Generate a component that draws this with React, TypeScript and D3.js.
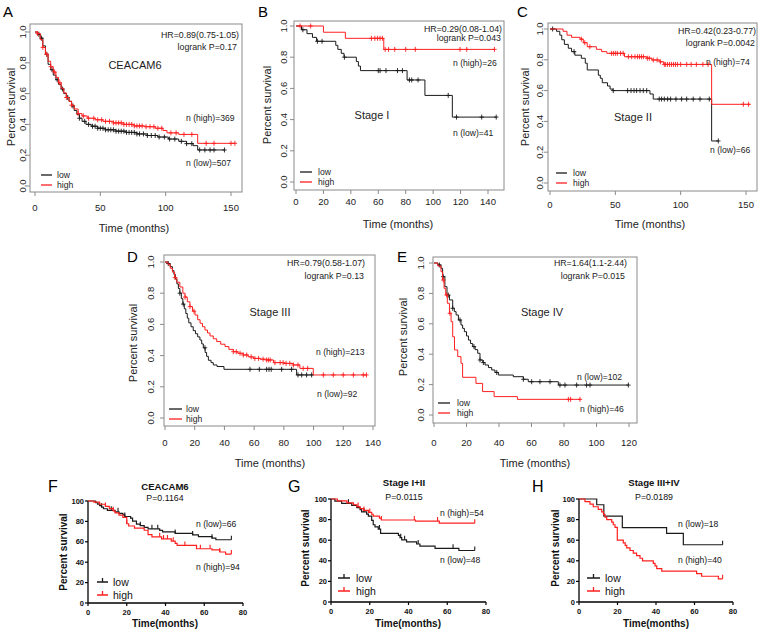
import * as d3 from "d3";

type Step = [number, number];

const FONT = "'Liberation Sans', Arial, Helvetica, sans-serif";
const BLACK = "#1a1a1a";
const RED = "#ff1f1f";
const GREY = "#8a8a8a";

// ---------- A: CEACAM6, all stages ----------
const A_LOW_STEPS: Step[] = [[0, 1], [2, 0.985], [4, 0.96], [6, 0.91], [8, 0.855], [10, 0.79], [12, 0.755], [14, 0.72], [16, 0.69], [18, 0.66], [20, 0.63], [22, 0.6], [24, 0.575], [26, 0.55], [28, 0.52], [30, 0.49], [32, 0.465], [34, 0.44], [36, 0.42], [39, 0.4], [43, 0.388], [48, 0.375], [54, 0.365], [62, 0.356], [70, 0.348], [78, 0.338], [86, 0.328], [94, 0.318], [102, 0.305], [110, 0.29], [116, 0.275], [121, 0.262], [124.5, 0.234]];
const A_LOW_END = 145;
const A_LOW_CENSOR = [3, 5, 9, 13, 17, 21, 25, 29, 34, 38, 41, 44, 46, 48, 50, 52, 54, 56, 58, 60, 62, 64, 66, 68, 70, 72, 74, 76, 78, 80, 83, 86, 89, 92, 95, 99, 103, 107, 112, 116, 120, 126, 130, 134, 137, 145];
const A_HIGH_STEPS: Step[] = [[0, 1], [2, 0.99], [4, 0.95], [6, 0.9], [8, 0.855], [10, 0.81], [12, 0.775], [14, 0.74], [16, 0.705], [18, 0.67], [20, 0.635], [22, 0.605], [24, 0.575], [26, 0.55], [28, 0.525], [30, 0.5], [33, 0.47], [36, 0.455], [40, 0.44], [46, 0.43], [52, 0.42], [60, 0.41], [68, 0.4], [76, 0.39], [84, 0.385], [92, 0.375], [98, 0.36], [101, 0.345], [110, 0.335], [124.5, 0.277]];
const A_HIGH_END = 153;
const A_HIGH_CENSOR = [2, 6, 9, 12, 15, 19, 24, 28, 33, 37, 41, 45, 48, 51, 54, 57, 60, 62, 64, 66, 68, 70, 72, 74, 76, 78, 80, 82, 85, 88, 91, 94, 97, 104, 108, 114, 120, 131, 137, 150, 153];

// ---------- B: Stage I ----------
const B_LOW_STEPS: Step[] = [[0, 1], [4, 0.976], [8, 0.951], [12, 0.927], [15, 0.902], [29, 0.876], [30.5, 0.85], [33, 0.825], [35, 0.8], [44, 0.772], [45.5, 0.743], [47, 0.714], [81, 0.654], [94, 0.555], [114, 0.416]];
const B_LOW_END = 146;
const B_LOW_CENSOR = [5, 15.6, 19, 35.3, 60, 61.3, 65.6, 74, 77.6, 82.7, 84.4, 89, 111, 117, 135.4, 146];
const B_HIGH_STEPS: Step[] = [[0, 1], [20, 0.96], [36, 0.921], [64, 0.85]];
const B_HIGH_END = 144.7;
const B_HIGH_CENSOR = [3, 10.7, 55, 57.5, 59.5, 61.3, 63, 65, 67.5, 72, 80, 87, 119.6, 124.5, 144.7];

// ---------- C: Stage II ----------
const C_LOW_STEPS: Step[] = [[0, 1], [5, 0.985], [7.5, 0.96], [9, 0.93], [11, 0.9], [14, 0.875], [16.5, 0.853], [19, 0.83], [24, 0.81], [27, 0.778], [28.5, 0.734], [37, 0.7], [38.5, 0.68], [40, 0.651], [44, 0.63], [46, 0.61], [48, 0.6], [76.5, 0.578], [79, 0.545], [123.7, 0.273]];
const C_LOW_END = 128.8;
const C_LOW_CENSOR = [2, 18.4, 48.4, 59.4, 62, 64.3, 66.3, 68.9, 71.4, 74, 83.6, 85.4, 87.5, 90, 92.3, 96.4, 100.7, 104.6, 109.6, 114.8, 121.9, 128.8];
const C_HIGH_STEPS: Step[] = [[0, 1], [10, 0.985], [13, 0.96], [16.5, 0.946], [23, 0.934], [25.5, 0.911], [28.5, 0.885], [35.5, 0.868], [39.5, 0.853], [43.5, 0.842], [57, 0.82], [74, 0.81], [78, 0.799], [84, 0.787], [87, 0.77], [123.7, 0.511]];
const C_HIGH_END = 153;
const C_HIGH_CENSOR = [24, 26.6, 30.5, 47, 48.5, 50, 51.5, 54, 56, 60, 62.5, 65, 67, 68.5, 70, 71.5, 74.5, 76, 79, 82, 84.5, 87.5, 88.5, 90, 91.5, 93, 94.5, 96, 97.5, 100, 104.6, 108, 112, 117, 121, 148, 152];

// ---------- D: Stage III ----------
const D_LOW_STEPS: Step[] = [[0, 1], [2, 0.99], [3.5, 0.97], [5, 0.945], [6, 0.92], [7, 0.89], [8, 0.86], [9, 0.83], [10, 0.8], [11, 0.765], [12, 0.73], [13, 0.7], [14, 0.67], [15, 0.64], [16, 0.61], [17.5, 0.585], [19, 0.56], [20.5, 0.54], [22, 0.52], [23.5, 0.5], [24.7, 0.475], [25.8, 0.45], [27, 0.42], [28, 0.395], [29.2, 0.37], [31, 0.355], [32.5, 0.34], [35, 0.33], [39.7, 0.312], [88.6, 0.276]];
const D_LOW_END = 99.8;
const D_LOW_CENSOR = [2.2, 10, 12.3, 26.9, 57.2, 63.5, 68.4, 70, 71.5, 78.5, 85.2, 89.5, 92, 95.3, 98.7];
const D_HIGH_STEPS: Step[] = [[0, 1], [2, 0.985], [3.5, 0.96], [5, 0.935], [6.5, 0.9], [8, 0.87], [10, 0.84], [12, 0.8], [13.5, 0.775], [15, 0.745], [16.8, 0.714], [18.5, 0.685], [20.2, 0.66], [22, 0.63], [23.6, 0.607], [25.2, 0.585], [26.9, 0.564], [28.6, 0.545], [30.3, 0.526], [32.5, 0.508], [34.8, 0.49], [37.5, 0.473], [40.4, 0.458], [43, 0.44], [46, 0.425], [49, 0.415], [52.7, 0.404], [56, 0.392], [59.5, 0.382], [64, 0.377], [68.4, 0.372], [73, 0.355], [80, 0.35], [86.4, 0.34], [90.8, 0.318], [99.8, 0.276]];
const D_HIGH_END = 135.6;
const D_HIGH_CENSOR = [6.7, 13.5, 16.8, 19.5, 46, 48, 50.5, 52.7, 55, 58, 60.5, 63, 66, 68.4, 69.6, 70.8, 74, 77.5, 79.5, 81.5, 84, 86.4, 89.5, 93, 96, 106.6, 113.3, 120, 126.8, 133.5, 135.6];

// ---------- E: Stage IV ----------
const E_LOW_STEPS: Step[] = [[0, 1], [2.4, 0.987], [4.3, 0.965], [5.3, 0.91], [6.7, 0.844], [8, 0.789], [9.5, 0.757], [11.5, 0.702], [12.5, 0.68], [13.6, 0.658], [15, 0.625], [16.6, 0.592], [17.6, 0.57], [18.7, 0.548], [20, 0.52], [21.2, 0.493], [22.5, 0.47], [23.8, 0.45], [25.3, 0.43], [26.9, 0.406], [28.3, 0.362], [30, 0.345], [31.4, 0.329], [33.5, 0.312], [35.5, 0.296], [37.5, 0.28], [39.6, 0.263], [48.8, 0.252], [55, 0.235], [58, 0.219], [76.5, 0.197]];
const E_LOW_END = 119.6;
const E_LOW_CENSOR = [3.3, 5.7, 8.8, 11.5, 16, 24.6, 28.3, 30.4, 38.6, 55, 60.1, 65.2, 71.4, 77.5, 80.6, 87.8, 93.9, 96, 119.6];
const E_HIGH_STEPS: Step[] = [[0, 1], [2.4, 0.98], [4.3, 0.943], [5.3, 0.888], [6.2, 0.833], [7.2, 0.789], [8.2, 0.735], [9.5, 0.669], [10.5, 0.614], [11.5, 0.515], [12.6, 0.428], [14.6, 0.384], [16.6, 0.34], [17.6, 0.248], [25.8, 0.208], [29.9, 0.154], [37, 0.121], [51.3, 0.103]];
const E_HIGH_END = 90.2;
const E_HIGH_CENSOR = [5.7, 7.8, 9.8, 82.7, 84.1, 89.8];

// ---------- F: CEACAM6 (cohort, %) ----------
const F_LOW_STEPS: Step[] = [[0, 100], [4, 98.5], [5, 97], [6, 95.5], [7, 93.9], [8, 92.4], [10, 90.9], [14, 89.4], [16, 87.9], [18, 86.4], [19, 84.8], [22, 83.3], [23, 80.3], [25, 77.3], [27, 75.8], [29, 74.2], [31, 72.7], [37, 71.2], [38.5, 69.7], [45, 68.2], [54, 66.7], [57, 65.1], [64, 63.6], [66, 62]];
const F_LOW_END = 74;
const F_LOW_CENSOR = [7, 12, 15.5, 19, 27, 33, 36, 45, 54, 64, 74];
const F_HIGH_STEPS: Step[] = [[0, 100], [3, 98.9], [6, 96.8], [9, 94.7], [11, 92.6], [13, 90.4], [14, 88.3], [16, 86.2], [18, 84], [20, 77.7], [21, 75.5], [24, 73.4], [29, 71.3], [31, 67], [33, 64.9], [38, 62.8], [43, 60.6], [45, 58.5], [46, 56.4], [56, 53.2], [64, 52], [68, 50], [71, 48]];
const F_HIGH_END = 74;
const F_HIGH_CENSOR = [9, 13, 20, 37, 39, 41, 44, 50, 58, 63, 68, 74];

// ---------- G: Stage I+II ----------
const G_LOW_STEPS: Step[] = [[0, 100], [2, 97.9], [5.5, 95.8], [10.7, 93.8], [13.3, 91.7], [15, 89.6], [15.8, 87.5], [18.4, 85.4], [19.3, 83.3], [21, 79.2], [21.8, 75], [22.7, 72.9], [24.4, 70.8], [25.6, 66.7], [34.8, 64.6], [35.6, 62.5], [36.5, 60.4], [39, 58.3], [44.2, 56.3], [45.9, 54.2], [53.7, 52.1], [66, 50]];
const G_LOW_END = 74.2;
const G_LOW_CENSOR = [9, 17, 25, 36, 38, 45, 63, 74.2];
const G_HIGH_STEPS: Step[] = [[0, 100], [3.3, 98.1], [8.2, 96.3], [11.6, 94.4], [13.3, 92.6], [15, 90.7], [16.8, 88.9], [19.3, 87], [21, 85.2], [21.8, 83.3], [25, 81.5], [26, 79.6], [43.6, 78.6], [55.9, 76.5]];
const G_HIGH_END = 74.2;
const G_HIGH_CENSOR = [14, 17, 20, 26, 43, 55, 74.2];

// ---------- H: Stage III+IV ----------
const H_LOW_STEPS: Step[] = [[0, 100], [9.2, 94.4], [12.9, 83.3], [22.5, 72.2], [45.5, 66.7], [54.2, 55.6]];
const H_LOW_END = 74.6;
const H_LOW_CENSOR = [74.6];
const H_HIGH_STEPS: Step[] = [[0, 100], [3.1, 97.5], [5.7, 95], [7.4, 92.5], [10, 90], [11.8, 87.5], [12.7, 85], [13.5, 82.5], [14.4, 80], [17, 77.5], [17.8, 75], [18.7, 72.5], [19.9, 60], [23, 57.5], [24, 55], [24.8, 52.5], [26.5, 50], [28.2, 47.5], [29.9, 45], [31.7, 42.5], [33, 40], [38.6, 37.5], [39.5, 35], [40.4, 32.5], [43, 30], [61.1, 27.5], [63.7, 25], [72.4, 22.5]];
const H_HIGH_END = 74.6;
const H_HIGH_CENSOR = [74.6];

const R_Y_TICKS = [0, 0.2, 0.4, 0.6, 0.8, 1];
const G_Y_TICKS = [0, 20, 40, 60, 80, 100];
const G_X_TICKS = [0, 20, 40, 60, 80];

interface Curve {
  steps: Step[];
  end: number;
  censor: number[];
  color: string;
}

function survAt(steps: Step[], t: number) {
  let s = steps[0][1];
  for (const [tt, ss] of steps) {
    if (tt <= t) s = ss;
    else break;
  }
  return s;
}

function pathPoints(c: Curve): Step[] {
  const last = c.steps[c.steps.length - 1];
  return [...c.steps, [c.end, last[1]]];
}

interface Pos { x: number; y: number }

interface RCfg {
  letter: string;
  letterPos: Pos;
  box: { l: number; r: number; t: number; b: number };
  xDomain: [number, number];
  xRange: [number, number];
  yRange: [number, number];
  xTicks: number[];
  yTickX: number;
  xTickY: number;
  xTitle: Pos;
  yTitle: Pos;
  hr: string;
  hrPos: Pos;
  logrank: string;
  logrankPos: Pos;
  label: string;
  labelPos: Pos;
  notes: { text: string; x: number; y: number }[];
  legend: { x1: number; x2: number; tx: number; yLow: number; yHigh: number };
  curves: Curve[];
}

function RPanel({ p }: { p: RCfg }) {
  const x = d3.scaleLinear().domain(p.xDomain).range(p.xRange);
  const y = d3.scaleLinear().domain([0, 1]).range(p.yRange);
  const line = d3.line<Step>().x((d) => x(d[0])).y((d) => y(d[1])).curve(d3.curveStepAfter);
  const { box } = p;
  return (
    <g fontFamily={FONT} fill="#222">
      <text x={p.letterPos.x} y={p.letterPos.y} fontSize={15} fill="#000">{p.letter}</text>
      <rect x={box.l} y={box.t} width={box.r - box.l} height={box.b - box.t} fill="none" stroke={GREY} />
      {R_Y_TICKS.map((v) => (
        <g key={v}>
          <line x1={box.l - 4} x2={box.l} y1={y(v)} y2={y(v)} stroke={GREY} />
          <text transform={`translate(${p.yTickX},${y(v)}) rotate(-90)`} textAnchor="middle" dy="0.35em" fontSize={9.5}>
            {v.toFixed(1)}
          </text>
        </g>
      ))}
      {p.xTicks.map((v) => (
        <g key={v}>
          <line x1={x(v)} x2={x(v)} y1={box.b} y2={box.b + 4} stroke={GREY} />
          <text x={x(v)} y={p.xTickY} textAnchor="middle" dy="0.35em" fontSize={9.5}>{v}</text>
        </g>
      ))}
      <text x={p.xTitle.x} y={p.xTitle.y} textAnchor="middle" dy="0.35em" fontSize={11}>Time (months)</text>
      <text transform={`translate(${p.yTitle.x},${p.yTitle.y}) rotate(-90)`} textAnchor="middle" dy="0.35em" fontSize={11}>
        Percent survival
      </text>
      {p.curves.map((c, i) => (
        <g key={i}>
          <path d={line(pathPoints(c)) ?? ""} fill="none" stroke={c.color} strokeWidth={1} />
          {c.censor.map((t, j) => {
            const cx = x(t);
            const cy = y(survAt(c.steps, t));
            return (
              <path key={j} d={`M${cx - 2.2},${cy}h4.4M${cx},${cy - 2.5}v5`} stroke={c.color} strokeWidth={0.9} fill="none" />
            );
          })}
        </g>
      ))}
      <text x={p.hrPos.x} y={p.hrPos.y} textAnchor="end" dy="0.35em" fontSize={8.8}>{p.hr}</text>
      <text x={p.logrankPos.x} y={p.logrankPos.y} textAnchor="end" dy="0.35em" fontSize={8.8}>{p.logrank}</text>
      <text x={p.labelPos.x} y={p.labelPos.y} textAnchor="middle" dy="0.35em" fontSize={11}>{p.label}</text>
      {p.notes.map((n) => (
        <text key={n.text} x={n.x} y={n.y} dy="0.35em" fontSize={8.6}>{n.text}</text>
      ))}
      <line x1={p.legend.x1} x2={p.legend.x2} y1={p.legend.yLow} y2={p.legend.yLow} stroke={BLACK} strokeWidth={1.3} />
      <line x1={p.legend.x1} x2={p.legend.x2} y1={p.legend.yHigh} y2={p.legend.yHigh} stroke={RED} strokeWidth={1.3} />
      <text x={p.legend.tx} y={p.legend.yLow} dy="0.3em" fontSize={8.6}>low</text>
      <text x={p.legend.tx} y={p.legend.yHigh} dy="0.3em" fontSize={8.6}>high</text>
    </g>
  );
}

interface GCfg {
  letter: string;
  letterPos: Pos;
  xRange: [number, number];
  yRange: [number, number];
  title: string;
  titlePos: Pos;
  pval: string;
  pvalPos: Pos;
  xTitle: Pos;
  yTitle: Pos;
  notes: { text: string; x: number; y: number }[];
  legend: { x1: number; x2: number; tx: number; yLow: number; yHigh: number };
  curves: Curve[];
}

function GPanel({ p }: { p: GCfg }) {
  const x = d3.scaleLinear().domain([0, 80]).range(p.xRange);
  const y = d3.scaleLinear().domain([0, 100]).range(p.yRange);
  const line = d3.line<Step>().x((d) => x(d[0])).y((d) => y(d[1])).curve(d3.curveStepAfter);
  const legendMark = (yy: number, color: string) => {
    const mx = (p.legend.x1 + p.legend.x2) / 2;
    return (
      <path d={`M${p.legend.x1},${yy}H${p.legend.x2}M${mx},${yy}v-4`} stroke={color} strokeWidth={1.3} fill="none" />
    );
  };
  return (
    <g fontFamily={FONT} fill="#111">
      <text x={p.letterPos.x} y={p.letterPos.y} fontSize={16} fill="#000">{p.letter}</text>
      <text x={p.titlePos.x} y={p.titlePos.y} textAnchor="middle" dy="0.35em" fontSize={9.6} fontWeight="bold">{p.title}</text>
      <text x={p.pvalPos.x} y={p.pvalPos.y} textAnchor="middle" dy="0.35em" fontSize={8.8}>{p.pval}</text>
      <line x1={x(0)} x2={x(0)} y1={y(0)} y2={y(100)} stroke="#000" strokeWidth={1.3} />
      <line x1={x(0)} x2={x(80)} y1={y(0)} y2={y(0)} stroke="#000" strokeWidth={1.3} />
      {G_Y_TICKS.map((v) => (
        <g key={v}>
          <line x1={x(0) - 3} x2={x(0)} y1={y(v)} y2={y(v)} stroke="#000" strokeWidth={1.2} />
          <text x={x(0) - 4} y={y(v)} textAnchor="end" dy="0.35em" fontSize={7.5} fontWeight="bold">{v}</text>
        </g>
      ))}
      {G_X_TICKS.map((v) => (
        <g key={v}>
          <line x1={x(v)} x2={x(v)} y1={y(0)} y2={y(0) + 3} stroke="#000" strokeWidth={1.2} />
          <text x={x(v)} y={y(0) + 9} textAnchor="middle" dy="0.35em" fontSize={7.5} fontWeight="bold">{v}</text>
        </g>
      ))}
      <text x={p.xTitle.x} y={p.xTitle.y} textAnchor="middle" dy="0.35em" fontSize={10} fontWeight="bold">Time(months)</text>
      <text transform={`translate(${p.yTitle.x},${p.yTitle.y}) rotate(-90)`} textAnchor="middle" dy="0.35em" fontSize={10} fontWeight="bold">
        Percent survival
      </text>
      {p.curves.map((c, i) => (
        <g key={i}>
          <path d={line(pathPoints(c)) ?? ""} fill="none" stroke={c.color} strokeWidth={1.2} />
          {c.censor.map((t, j) => {
            const cx = x(t);
            const cy = y(survAt(c.steps, t));
            return <path key={j} d={`M${cx},${cy}v-4`} stroke={c.color} strokeWidth={1.1} fill="none" />;
          })}
        </g>
      ))}
      {p.notes.map((n) => (
        <text key={n.text} x={n.x} y={n.y} dy="0.35em" fontSize={8.6}>{n.text}</text>
      ))}
      {legendMark(p.legend.yLow, BLACK)}
      {legendMark(p.legend.yHigh, RED)}
      <text x={p.legend.tx} y={p.legend.yLow} dy="0.35em" fontSize={10.5}>low</text>
      <text x={p.legend.tx} y={p.legend.yHigh} dy="0.35em" fontSize={10.5}>high</text>
    </g>
  );
}

const curvePair = (
  lowSteps: Step[], lowEnd: number, lowCensor: number[],
  highSteps: Step[], highEnd: number, highCensor: number[]
): Curve[] => [
  { steps: lowSteps, end: lowEnd, censor: lowCensor, color: BLACK },
  { steps: highSteps, end: highEnd, censor: highCensor, color: RED },
];

const R_PANELS: RCfg[] = [
  {
    letter: "A", letterPos: { x: 3, y: 17 },
    box: { l: 30, r: 242, t: 24, b: 192 },
    xDomain: [0, 150], xRange: [35, 231], yRange: [186, 32], xTicks: [0, 50, 100, 150],
    yTickX: 23, xTickY: 208, xTitle: { x: 134, y: 228 }, yTitle: { x: 11, y: 107 },
    hr: "HR=0.89(0.75-1.05)", hrPos: { x: 239, y: 35 },
    logrank: "logrank P=0.17", logrankPos: { x: 237, y: 47 },
    label: "CEACAM6", labelPos: { x: 135, y: 65 },
    notes: [{ text: "n (high)=369", x: 186, y: 118 }, { text: "n (low)=507", x: 186, y: 163 }],
    legend: { x1: 41, x2: 52, tx: 57, yLow: 175, yHigh: 185 },
    curves: curvePair(A_LOW_STEPS, A_LOW_END, A_LOW_CENSOR, A_HIGH_STEPS, A_HIGH_END, A_HIGH_CENSOR),
  },
  {
    letter: "B", letterPos: { x: 258, y: 17 },
    box: { l: 294, r: 504, t: 21, b: 190 },
    xDomain: [0, 140], xRange: [296, 488], yRange: [182, 26], xTicks: [0, 20, 40, 60, 80, 100, 120, 140],
    yTickX: 284, xTickY: 202, xTitle: { x: 398, y: 224 }, yTitle: { x: 267, y: 105 },
    hr: "HR=0.29(0.08-1.04)", hrPos: { x: 502, y: 29 },
    logrank: "logrank P=0.043", logrankPos: { x: 501, y: 38 },
    label: "Stage I", labelPos: { x: 372, y: 115 },
    notes: [{ text: "n (high)=26", x: 453, y: 63 }, { text: "n (low)=41", x: 453, y: 133 }],
    legend: { x1: 300, x2: 312, tx: 318, yLow: 172, yHigh: 182 },
    curves: curvePair(B_LOW_STEPS, B_LOW_END, B_LOW_CENSOR, B_HIGH_STEPS, B_HIGH_END, B_HIGH_CENSOR),
  },
  {
    letter: "C", letterPos: { x: 517, y: 17 },
    box: { l: 548, r: 757, t: 23, b: 191 },
    xDomain: [0, 150], xRange: [550, 746], yRange: [183, 29], xTicks: [0, 50, 100, 150],
    yTickX: 540, xTickY: 205, xTitle: { x: 650, y: 224 }, yTitle: { x: 525, y: 107 },
    hr: "HR=0.42(0.23-0.77)", hrPos: { x: 756, y: 31 },
    logrank: "logrank P=0.0042", logrankPos: { x: 755, y: 43 },
    label: "Stage II", labelPos: { x: 633, y: 117 },
    notes: [{ text: "n (high)=74", x: 706, y: 62 }, { text: "n (low)=66", x: 710, y: 150 }],
    legend: { x1: 556, x2: 567, tx: 573, yLow: 173, yHigh: 183 },
    curves: curvePair(C_LOW_STEPS, C_LOW_END, C_LOW_CENSOR, C_HIGH_STEPS, C_HIGH_END, C_HIGH_CENSOR),
  },
  {
    letter: "D", letterPos: { x: 127, y: 262 },
    box: { l: 164, r: 375, t: 255, b: 426 },
    xDomain: [0, 140], xRange: [165, 373], yRange: [418, 262], xTicks: [0, 20, 40, 60, 80, 100, 120, 140],
    yTickX: 151, xTickY: 443, xTitle: { x: 270, y: 463 }, yTitle: { x: 133, y: 343 },
    hr: "HR=0.79(0.58-1.07)", hrPos: { x: 365, y: 263 },
    logrank: "logrank P=0.13", logrankPos: { x: 364, y: 276 },
    label: "Stage III", labelPos: { x: 270, y: 312 },
    notes: [{ text: "n (high)=213", x: 316, y: 352 }, { text: "n (low)=92", x: 317, y: 394 }],
    legend: { x1: 169, x2: 182, tx: 186, yLow: 409, yHigh: 419 },
    curves: curvePair(D_LOW_STEPS, D_LOW_END, D_LOW_CENSOR, D_HIGH_STEPS, D_HIGH_END, D_HIGH_CENSOR),
  },
  {
    letter: "E", letterPos: { x: 397, y: 262 },
    box: { l: 433, r: 637, t: 257, b: 423 },
    xDomain: [0, 120], xRange: [434, 629], yRange: [415, 263], xTicks: [0, 20, 40, 60, 80, 100, 120],
    yTickX: 421, xTickY: 443, xTitle: { x: 535, y: 463 }, yTitle: { x: 403, y: 337 },
    hr: "HR=1.64(1.1-2.44)", hrPos: { x: 627, y: 263 },
    logrank: "logrank P=0.015", logrankPos: { x: 625, y: 276 },
    label: "Stage IV", labelPos: { x: 542, y: 312 },
    notes: [{ text: "n (low)=102", x: 577, y: 377 }, { text: "n (high)=46", x: 580, y: 409 }],
    legend: { x1: 438, x2: 450, tx: 457, yLow: 403, yHigh: 413 },
    curves: curvePair(E_LOW_STEPS, E_LOW_END, E_LOW_CENSOR, E_HIGH_STEPS, E_HIGH_END, E_HIGH_CENSOR),
  },
];

const G_PANELS: GCfg[] = [
  {
    letter: "F", letterPos: { x: 48, y: 492 },
    xRange: [88, 243], yRange: [603, 501],
    title: "CEACAM6", titlePos: { x: 165, y: 487 }, pval: "P=0.1164", pvalPos: { x: 165, y: 498 },
    xTitle: { x: 165, y: 623 }, yTitle: { x: 63, y: 552 },
    notes: [{ text: "n (low)=66", x: 196, y: 524 }, { text: "n (high)=94", x: 196, y: 567 }],
    legend: { x1: 97, x2: 108, tx: 113, yLow: 582, yHigh: 595 },
    curves: curvePair(F_LOW_STEPS, F_LOW_END, F_LOW_CENSOR, F_HIGH_STEPS, F_HIGH_END, F_HIGH_CENSOR),
  },
  {
    letter: "G", letterPos: { x: 288, y: 492 },
    xRange: [331, 486], yRange: [602, 499],
    title: "Stage I+II", titlePos: { x: 404, y: 483 }, pval: "P=0.0115", pvalPos: { x: 404, y: 497 },
    xTitle: { x: 408, y: 623 }, yTitle: { x: 305, y: 548 },
    notes: [{ text: "n (high)=54", x: 440, y: 513 }, { text: "n (low)=48", x: 440, y: 560 }],
    legend: { x1: 338, x2: 350, tx: 356, yLow: 578, yHigh: 591 },
    curves: curvePair(G_LOW_STEPS, G_LOW_END, G_LOW_CENSOR, G_HIGH_STEPS, G_HIGH_END, G_HIGH_CENSOR),
  },
  {
    letter: "H", letterPos: { x: 532, y: 492 },
    xRange: [579, 733], yRange: [602, 499],
    title: "Stage III+IV", titlePos: { x: 654, y: 483 }, pval: "P=0.0189", pvalPos: { x: 654, y: 497 },
    xTitle: { x: 656, y: 623 }, yTitle: { x: 555, y: 548 },
    notes: [{ text: "n (low)=18", x: 678, y: 524 }, { text: "n (high)=40", x: 678, y: 560 }],
    legend: { x1: 587, x2: 600, tx: 605, yLow: 578, yHigh: 591 },
    curves: curvePair(H_LOW_STEPS, H_LOW_END, H_LOW_CENSOR, H_HIGH_STEPS, H_HIGH_END, H_HIGH_CENSOR),
  },
];

export default function App() {
  return (
    <svg
      width={760}
      height={632}
      viewBox="0 0 760 632"
      style={{ position: "absolute", left: 0, top: 0, background: "#fff", display: "block" }}
    >
      <rect width={760} height={632} fill="#fff" />
      {R_PANELS.map((p) => (
        <RPanel key={p.letter} p={p} />
      ))}
      {G_PANELS.map((p) => (
        <GPanel key={p.letter} p={p} />
      ))}
    </svg>
  );
}
